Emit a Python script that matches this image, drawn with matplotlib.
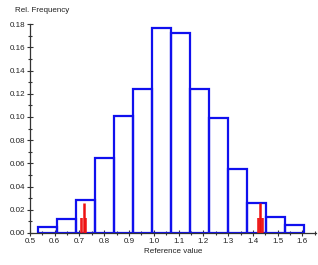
import numpy as np
import matplotlib
matplotlib.use("Agg")
import matplotlib.pyplot as plt
from matplotlib.ticker import MultipleLocator

plt.rcParams['font.family'] = ['Liberation Sans', 'DejaVu Sans']

# histogram of reference values
bin_start = 0.533
bin_width = 0.0767
rel_freq = [0.005, 0.0123, 0.028, 0.065, 0.101, 0.124, 0.1765,
            0.172, 0.124, 0.0993, 0.0554, 0.0258, 0.0135, 0.0072]

# red marker bars
red_x = [0.707, 0.712, 0.717, 0.722, 0.727,
         1.419, 1.424, 1.430, 1.436, 1.441]
red_h = [0.013, 0.013, 0.026, 0.013, 0.013,
         0.013, 0.013, 0.026, 0.013, 0.013]

edges = bin_start + bin_width * np.arange(len(rel_freq))

fig = plt.figure(figsize=(3.18, 2.65), dpi=100)
ax = fig.add_axes([0.094, 0.121, 0.9, 0.788])

ax.bar(edges, rel_freq, width=bin_width, align='edge', fill=False,
       edgecolor='#1010ee', linewidth=1.6, zorder=2)
lws = [1.8 if h > 0.02 else 1.1 for h in red_h]
ax.vlines(red_x, 0, red_h, color='#ee1010', linewidths=lws, zorder=3)

ax.set_xlim(0.5, 1.655)
ax.set_ylim(0, 0.18)
ax.xaxis.set_minor_locator(MultipleLocator(0.05))
ax.yaxis.set_major_locator(MultipleLocator(0.02))
ax.yaxis.set_minor_locator(MultipleLocator(0.01))
ax.set_xticks(np.arange(0.5, 1.61, 0.1))
ax.set_xticklabels(['%.1f' % v for v in np.arange(0.5, 1.61, 0.1)])
ax.set_yticklabels(['%.2f' % v for v in ax.get_yticks()])

for s in ['top', 'right']:
    ax.spines[s].set_visible(False)
for s in ['left', 'bottom']:
    ax.spines[s].set_linewidth(0.9)
    ax.spines[s].set_color('#333333')

ax.tick_params(which='major', direction='inout', length=4, width=0.8,
               labelsize=5.8, pad=1.5, colors='#333333', labelcolor='#222222')
ax.tick_params(which='minor', direction='inout', length=3, width=0.8,
               colors='#333333')

ax.set_xlabel('Reference value', fontsize=5.8, labelpad=2, color='#222222')
fig.text(0.047, 0.962, 'Rel. Frequency', fontsize=5.8, color='#222222',
         va='center', ha='left')

fig.savefig('out.png', dpi=100)
